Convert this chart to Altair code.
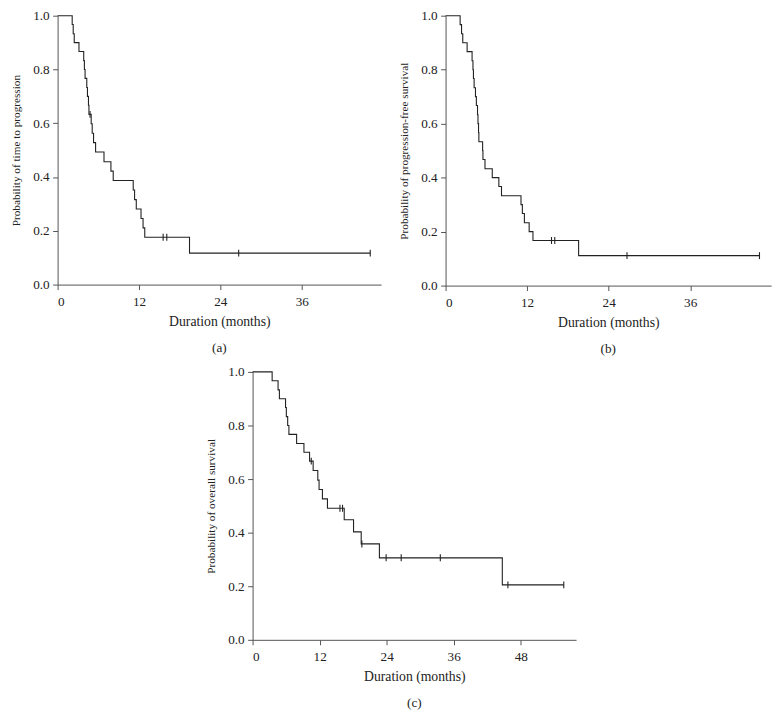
import altair as alt
import pandas as pd

# Panel (a): time to progression
times_a = [0, 2.15, 2.3, 2.45, 3.15, 3.85, 3.95, 4.05, 4.3, 4.4, 4.55, 4.62, 4.95, 5.1, 5.3, 5.6,
           6.84, 7.86, 8.2, 11.15, 11.35, 11.6, 12.3, 12.6, 12.85, 19.45, 46.1]
surv_a = [1, .967, .933, .9, .867, .833, .8, .767, .733, .7, .667, .633, .598, .563, .528, .493,
          .457, .422, .387, .352, .316, .281, .246, .211, .176, .117, .117]
cens_t_a = [4.78, 15.56, 16.1, 26.7, 46.1]
cens_s_a = [0.633, 0.176, 0.176, 0.117, 0.117]

# Panel (b): progression-free survival
times_b = [0, 2.14, 2.35, 2.53, 3.17, 3.9, 4.03, 4.1, 4.2, 4.4, 4.53, 4.7, 4.77, 4.85, 4.9, 5.45,
           5.5, 5.8, 6.87, 7.84, 8.23, 11.1, 11.3, 11.6, 12.3, 12.86, 19.58, 46.2]
surv_b = [1, .967, .933, .9, .867, .833, .8, .767, .733, .7, .667, .633, .6, .567, .533, .5,
          .467, .433, .4, .367, .333, .3, .267, .233, .2, .167, .111, .111]
cens_t_b = [15.59, 16.07, 26.7, 46.2]
cens_s_b = [0.167, 0.167, 0.111, 0.111]

# Panel (c): overall survival
times_c = [0, 3.5, 4.56, 4.8, 5.9, 6.04, 6.28, 6.5, 7.88, 9.19, 10.2, 10.84, 11.67, 11.9, 12.5,
           13.4, 16.4, 18.07, 19.44, 22.7, 44.7, 55.7]
surv_c = [1, .967, .933, .9, .867, .833, .8, .767, .733, .7, .667, .632, .596, .561, .526,
          .491, .448, .403, .358, .306, .205, .205]
cens_t_c = [10.5, 15.64, 16.1, 19.56, 23.9, 26.6, 33.6, 45.7, 55.7]
cens_s_c = [0.667, 0.491, 0.491, 0.358, 0.306, 0.306, 0.306, 0.205, 0.205]

y_ticks = [0, 0.2, 0.4, 0.6, 0.8, 1.0]
FONT = "Liberation Serif"
INK = "#222222"


def panel(times, surv, ct, cs, ytitle, xmax, xticks, cap, w, h):
    df = pd.DataFrame({"t": times, "s": surv, "i": list(range(len(times)))})
    cdf = pd.DataFrame({"t": ct, "s": cs})
    xsc = alt.Scale(domain=[0, xmax], nice=False, zero=True)
    ysc = alt.Scale(domain=[0, 1], nice=False)
    line = alt.Chart(df).mark_line(interpolate="step-after", color=INK, strokeWidth=1.1).encode(
        x=alt.X("t:Q", scale=xsc, axis=alt.Axis(values=xticks, title="Duration (months)")),
        y=alt.Y("s:Q", scale=ysc, axis=alt.Axis(values=y_ticks, format=".1f", title=ytitle)),
        order="i:Q",
    )
    cens = alt.Chart(cdf).mark_point(shape="M0,-1L0,1", size=49, color=INK, strokeWidth=1.1,
                                     filled=False, opacity=1).encode(
        x=alt.X("t:Q", scale=xsc),
        y=alt.Y("s:Q", scale=ysc),
    )
    return alt.layer(line, cens).properties(
        width=w, height=h,
        title=alt.TitleParams(cap, orient="bottom", offset=13, font=FONT, fontSize=13.3,
                              fontWeight="normal", color=INK),
    )


pa = panel(times_a, surv_a, cens_t_a, cens_s_a, "Probability of time to progression",
           47.7, [0, 12, 24, 36], "(a)", 326, 271)
pb = panel(times_b, surv_b, cens_t_b, cens_s_b, "Probability of progression-free survival",
           47.9, [0, 12, 24, 36], "(b)", 328, 272)
pc = panel(times_c, surv_c, cens_t_c, cens_s_c, "Probability of overall survival",
           57.9, [0, 12, 24, 36, 48], "(c)", 326, 270)

top = alt.hconcat(pa, pb, spacing=17)
chart = alt.vconcat(top, pc, spacing=9, center=True).properties(
    padding={"left": 2, "top": -2, "right": 5, "bottom": 0}
).configure_view(stroke=None).configure_axis(
    grid=False,
    domainColor="#555555",
    tickColor="#555555",
    tickSize=5,
    labelFont=FONT,
    labelFontSize=13.3,
    labelColor=INK,
    titleFont=FONT,
    titleFontWeight="normal",
    titleColor=INK,
).configure_axisY(labelPadding=3.5, titleFontSize=11.3, titlePadding=11).configure_axisX(
    labelPadding=5, titleFontSize=13.8, titlePadding=7)

chart.save("out.html", embed_options={"renderer": "svg", "actions": False})
